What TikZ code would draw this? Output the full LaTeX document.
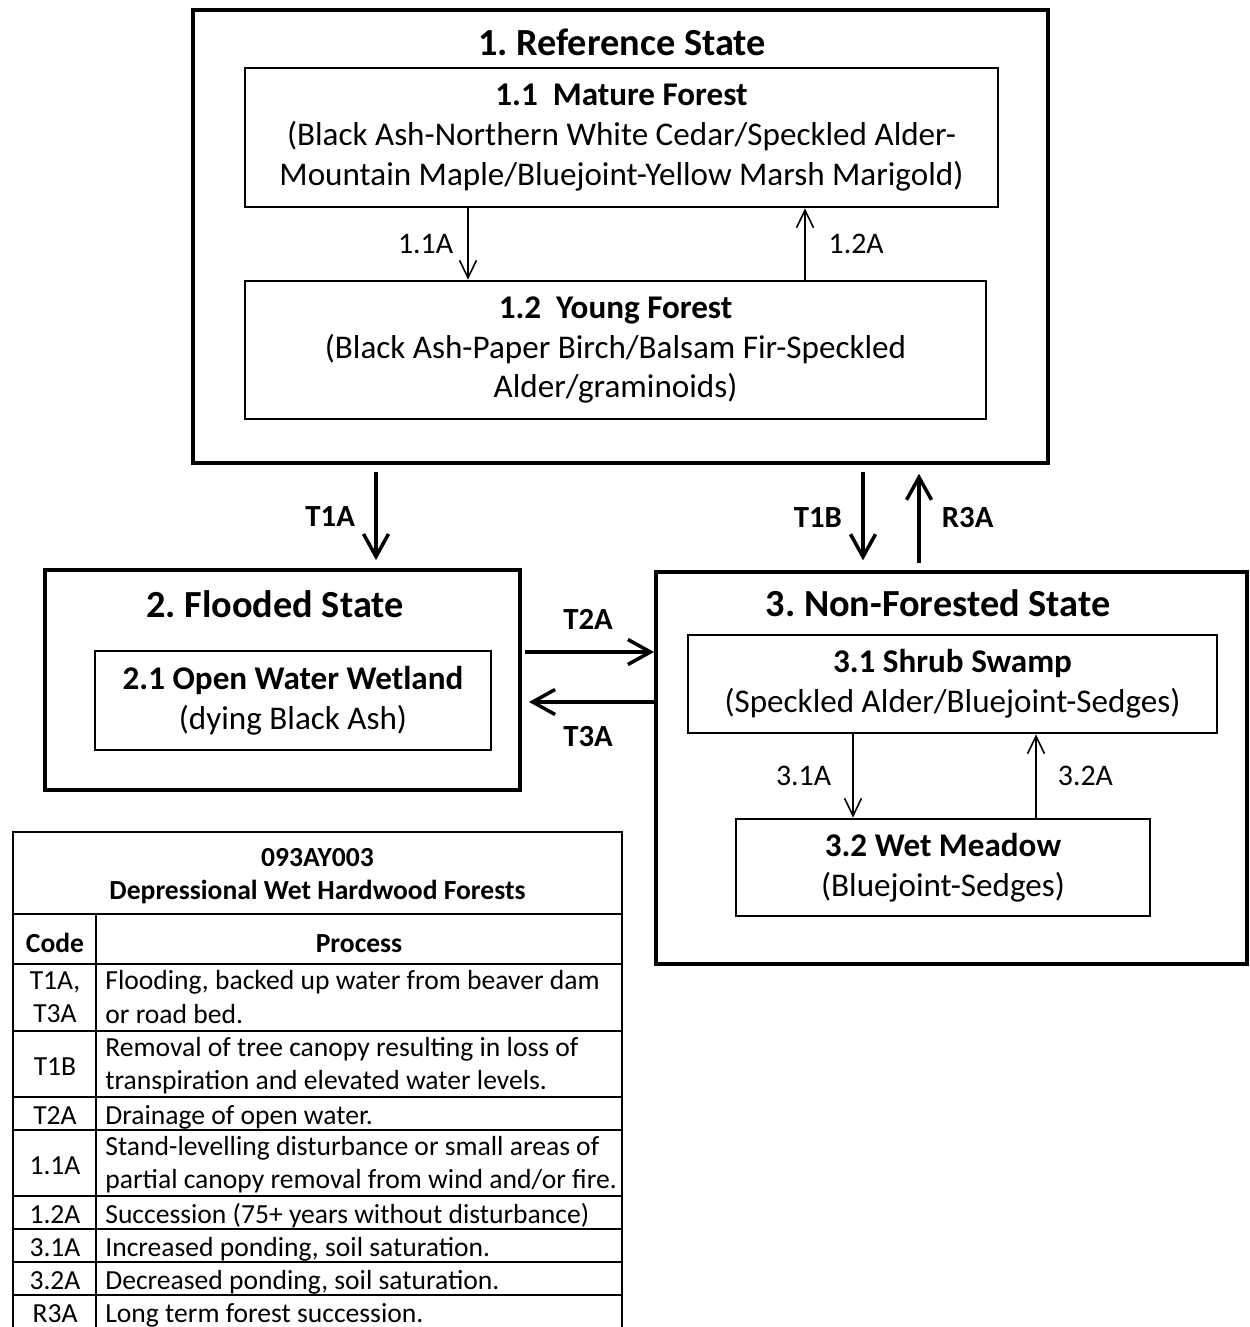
\documentclass[tikz,border=0pt]{standalone}
\usepackage{fontspec}
\setmainfont{Carlito}
\usetikzlibrary{arrows.meta,positioning}
\frenchspacing

\begin{document}
\begin{tikzpicture}[x=0.02cm,y=-0.02cm,
  every node/.style={font=\fontsize{18.85}{22.7}\selectfont},
  statebox/.style={draw,line width=2.3pt,inner sep=0pt},
  phasebox/.style={draw,line width=1.6pt,align=center,inner sep=0pt},
  statetitle/.style={font=\fontsize{21.8}{25}\selectfont\bfseries},
  inarr/.style={line width=.9pt,-{Straight Barb[length=3.5mm,width=3.4mm]}},
  outarr/.style={line width=2pt,-{Straight Barb[length=4.5mm,width=5mm]}},
  lbl/.style={font=\fontsize{17}{20}\selectfont,inner sep=0pt},
  tlbl/.style={font=\fontsize{17.5}{20}\selectfont\bfseries,inner sep=0pt},
  tab/.style={font=\fontsize{15.7}{18.9}\selectfont,inner sep=0pt,yshift=-2.5pt,
    execute at begin node=\strut,execute at end node=\strut},
  tabhead/.style={tab,font=\fontsize{15.7}{18.9}\selectfont\bfseries},
  tabline/.style={line width=1.1pt}]
\useasboundingbox (0,0) rectangle (1249,1327);
\node[statebox,minimum width=17.10cm,minimum height=9.06cm] (s1) at (620.5,236.5) {};
\node[statetitle] (t1) at (622,42) {1. Reference State};
\node[phasebox,minimum width=15.06cm,minimum height=2.78cm] (m11) at (621.5,137.5)
  {\textbf{1.1\ \ Mature Forest}\\(Black Ash-Northern White Cedar/Speckled Alder-\\Mountain Maple/Bluejoint-Yellow Marsh Marigold)};
\node[phasebox,minimum width=14.82cm,minimum height=2.76cm] (y12) at (615.5,350)
  {\textbf{1.2\ \ Young Forest}\\(Black Ash-Paper Birch/Balsam Fir-Speckled\\Alder/graminoids)};
\draw[inarr] (m11.south -| 468,0) -- (y12.north -| 468,0) node[lbl,midway,left=8pt] (l11a) {1.1A};
\draw[inarr] (y12.north -| 805,0) -- (m11.south -| 805,0) node[lbl,midway,right=13pt] (l12a) {1.2A};

\node[statebox,minimum width=9.50cm,minimum height=4.40cm] (s2) at (282.5,680) {};
\node[statetitle] (t2) at (275,604) {2. Flooded State};
\node[phasebox,minimum width=7.92cm,minimum height=1.98cm] (w21) at (293,700.5)
  {\textbf{2.1 Open Water Wetland}\\(dying Black Ash)};

\node[statebox,minimum width=11.82cm,minimum height=7.84cm] (s3) at (951.5,768) {};
\node[statetitle] (t3) at (938,603) {3. Non-Forested State};
\node[phasebox,minimum width=10.58cm,minimum height=1.96cm] (sw31) at (952.5,684)
  {\textbf{3.1 Shrub Swamp}\\(Speckled Alder/Bluejoint-Sedges)};
\node[phasebox,minimum width=8.28cm,minimum height=1.94cm] (wm32) at (943,867.5)
  {\textbf{3.2 Wet Meadow}\\(Bluejoint-Sedges)};
\draw[inarr] (sw31.south -| 853,0) -- (wm32.north -| 853,0) node[lbl,midway,left=12pt] (l31a) {3.1A};
\draw[inarr] (wm32.north -| 1036,0) -- (sw31.south -| 1036,0) node[lbl,midway,right=12pt] (l32a) {3.2A};

\draw[outarr,shorten <=4pt,shorten >=4.5pt] (s1.south -| 376,0) -- (s2.north -| 376,0) node[tlbl,midway,left=11pt] (lt1a) {T1A};
\draw[outarr,shorten <=4pt,shorten >=5.5pt] (s1.south -| 863,0) -- (s3.north -| 863,0) node[tlbl,midway,left=11pt] (lt1b) {T1B};
\draw[outarr,shorten <=4pt,shorten >=5pt] (s3.north -| 919,0) -- (s1.south -| 919,0) node[tlbl,midway,right=12pt] (lr3a) {R3A};
\draw[outarr,shorten <=2pt] (s2.east |- 0,652) -- (s3.west |- 0,652) node[tlbl,midway,above=12pt] (lt2a) {T2A};
\draw[outarr,shorten >=4pt] (s3.west |- 0,702) -- (s2.east |- 0,702) node[tlbl,midway,below=13pt] (lt3a) {T3A};

\draw[tabline] (13,1330) -- (13,832) -- (622,832) -- (622,1330);
\draw[tabline] (96,914) -- (96,1330);
\foreach \y in {914,964,1031,1097,1130,1196,1229,1262,1295}
  \draw[tabline] (13,\y) -- (622,\y);
\node[tabhead,align=center] (thead) at (317.5,874.5) {093AY003\\Depressional Wet Hardwood Forests};
\node[tabhead] (tcode) at (55,941) {Code};
\node[tabhead] (tproc) at (359,941) {Process};
\foreach \n/\y/\code/\proc in {
  1/997.5/{T1A,\\T3A}/{Flooding, backed up water from beaver dam\\or road bed.},
  2/1064/{T1B}/{Removal of tree canopy resulting in loss of\\transpiration and elevated water levels.},
  3/1113.5/{T2A}/{Drainage of open water.},
  4/1163/{1.1A}/{Stand-levelling disturbance or small areas of\\partial canopy removal from wind and/or fire.},
  5/1212.5/{1.2A}/{Succession (75+ years without disturbance)},
  6/1245.5/{3.1A}/{Increased ponding, soil saturation.},
  7/1278.5/{3.2A}/{Decreased ponding, soil saturation.},
  8/1311.5/{R3A}/{Long term forest succession.}}{
  \node[tab,align=center] (c\n) at (55,\y) {\code};
  \node[tab,align=left,anchor=west] (p\n) at (105,\y) {\proc};
}
\end{tikzpicture}
\end{document}
